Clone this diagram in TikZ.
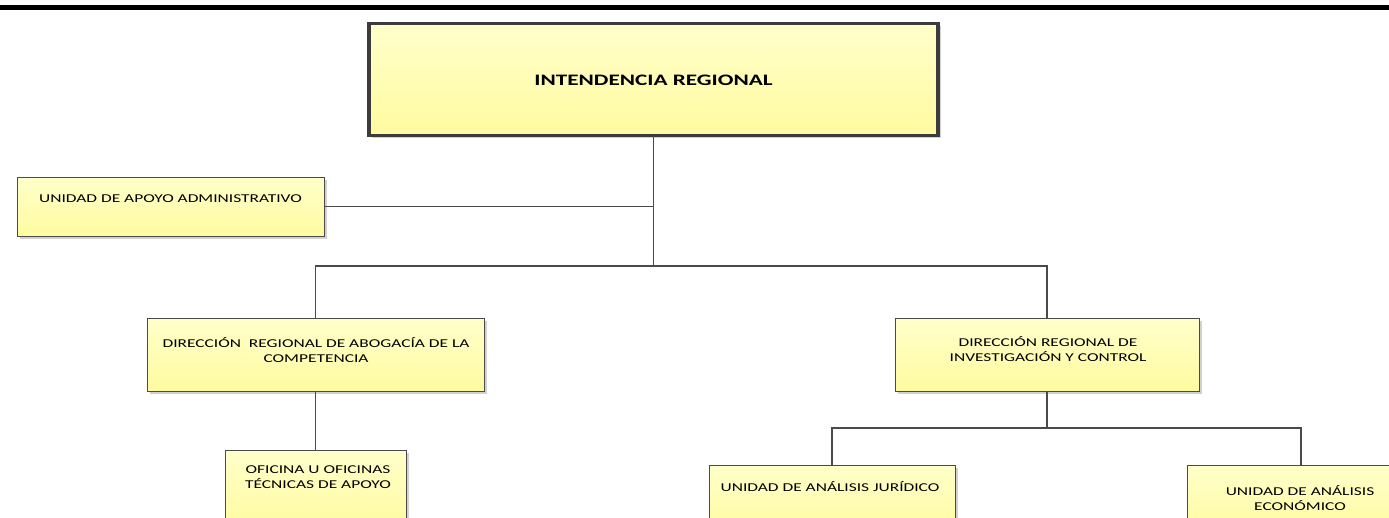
\documentclass[tikz,border=0pt]{standalone}
\usepackage{fontspec}
\setmainfont{Carlito}[FakeStretch=1.45]
\usetikzlibrary{shadows}
\definecolor{boxtop}{HTML}{FFFFCA}
\definecolor{boxbot}{HTML}{FFFBA0}
\definecolor{edge}{HTML}{4A4A4A}
\definecolor{topedge}{HTML}{3C3C3C}
\begin{document}
\begin{tikzpicture}[x=1pt,y=-1pt,
  orgbox/.style={draw=edge, line width=1pt, top color=boxtop, bottom color=boxbot,
    drop shadow={shadow xshift=2.5pt, shadow yshift=-2.5pt, opacity=0.18, fill=black},
    inner sep=0pt, outer sep=0pt, anchor=north west},
  lbl/.style={font=\fontsize{12}{14.5}\selectfont, align=center, inner sep=0pt, text=black},
  conn/.style={draw=edge, line width=1.4pt}]
\useasboundingbox (0,0) rectangle (1389,517);
\clip (0,0) rectangle (1389,517);
\fill[white] (0,0) rectangle (1389,517);
% top rule
\fill[black] (0,5) rectangle (1389,9.5);
% boxes
\node[orgbox, draw=topedge, line width=3.5pt, minimum width=569pt, minimum height=112pt] (top) at (369,23.5) {};
\node[orgbox, minimum width=307pt, minimum height=59pt] (admin) at (17,177) {};
\node[orgbox, minimum width=337pt, minimum height=73pt] (dirA) at (147,318) {};
\node[orgbox, minimum width=304pt, minimum height=73pt] (dirB) at (895,318) {};
\node[orgbox, minimum width=181pt, minimum height=80pt] (ofic) at (225,450) {};
\node[orgbox, minimum width=246pt, minimum height=70pt] (jur) at (709,465) {};
\node[orgbox, minimum width=228pt, minimum height=70pt] (econ) at (1187,465) {};
% labels
\node[lbl, font=\fontsize{16}{18}\selectfont\bfseries] (ttop) at (653.5,80) {INTENDENCIA REGIONAL};
\node[lbl] (tadmin) at (170.5,199) {UNIDAD DE APOYO ADMINISTRATIVO};
\node[lbl] (tdirA) at (316,350) {DIRECCIÓN\ \ REGIONAL DE ABOGACÍA DE LA\\COMPETENCIA};
\node[lbl] (tdirB) at (1048,349) {DIRECCIÓN REGIONAL DE\\INVESTIGACIÓN Y CONTROL};
\node[lbl] (tofic) at (318,477) {OFICINA U OFICINAS\\TÉCNICAS DE APOYO};
\node[lbl] (tjur) at (830,487) {UNIDAD DE ANÁLISIS JURÍDICO};
\node[lbl] (tecon) at (1300,498) {UNIDAD DE ANÁLISIS\\ECONÓMICO};
% connectors
\coordinate (j1) at ([yshift=-130.5pt]top.south);
\coordinate (j2) at ([yshift=-37pt]dirB.south);
\draw[conn] (top.south) -- (j1);
\draw[conn] (admin.east) -- (admin.east -| j1);
\draw[conn] (dirA.north) |- (j1) -| (dirB.north);
\draw[conn] (dirA.south) -- (ofic.north);
\draw[conn] (dirB.south) -- (j2);
\draw[conn] (jur.north) |- (j2) -| (econ.north);
\end{tikzpicture}
\end{document}
